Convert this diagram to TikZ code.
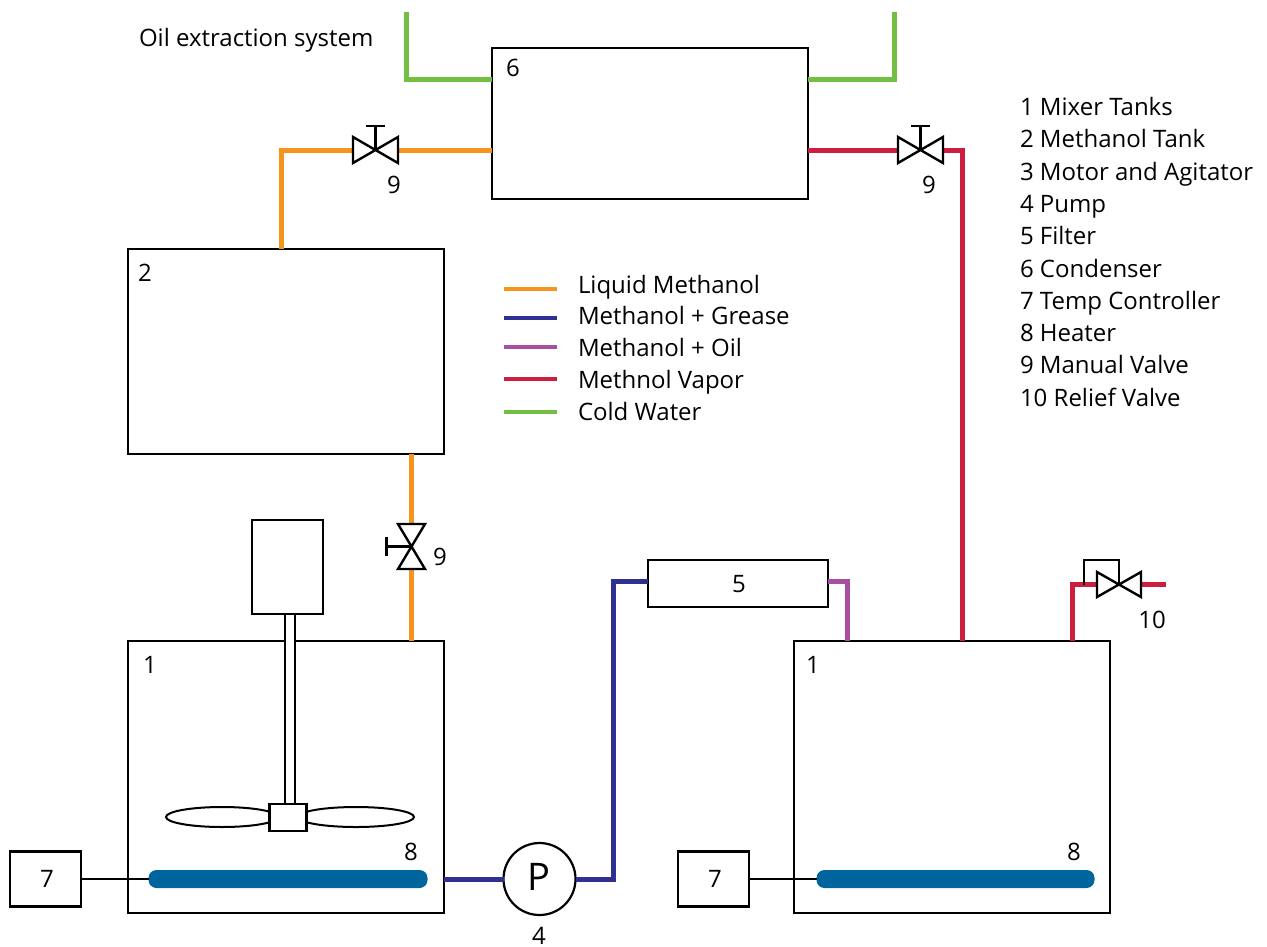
\documentclass[tikz,border=0pt]{standalone}
\usepackage{fontspec}
\usetikzlibrary{shapes.geometric}
\setmainfont{Open Sans}
\definecolor{liq}{HTML}{F7941D}
\definecolor{grease}{HTML}{2E3192}
\definecolor{oilc}{HTML}{A94F9F}
\definecolor{vapor}{HTML}{CC1F3F}
\definecolor{coldw}{HTML}{72BF44}
\definecolor{heat}{HTML}{00659C}
\tikzset{
  box/.style={draw=black,line width=2.2pt,fill=white,inner sep=0pt,outer sep=0pt},
  valvebox/.style={inner sep=0pt,outer sep=0pt,minimum width=#1},
  valveline/.style={draw=black,line width=2.4pt,fill=white,line join=miter},
  pipe/.style={line width=5pt,line join=miter},
  wire/.style={draw=black,line width=2pt},
  heater/.style={fill=heat,rounded corners=8pt,inner sep=0pt,outer sep=0pt,minimum height=18pt},
  blade/.style={draw=black,line width=2pt,ellipse,inner sep=0pt,outer sep=0pt,minimum height=20pt},
  lbl/.style={font=\fontsize{24}{28}\selectfont,inner sep=0pt,outer sep=0pt,anchor=base west,text=black},
  num/.style={lbl,anchor=base},
  legendline/.style={line width=4.5pt},
}
\begin{document}
\begin{tikzpicture}[x=1pt,y=-1pt]
\useasboundingbox (0,0) rectangle (1267,946);
% anchors of the pipes
\coordinate (gl0) at (406,12);
\coordinate (gr0) at (894,12);
\coordinate (rv0) at (1166,584);
% equipment
\node[box,minimum width=316pt,minimum height=151pt] (six) at (650,123.5) {};
\node[box,minimum width=316pt,minimum height=205pt] (two) at (286,351.5) {};
\node[box,minimum width=316pt,minimum height=272pt] (mixl) at (286,777) {};
\node[box,minimum width=316pt,minimum height=272pt] (mixr) at (952,777) {};
\node[box,minimum width=71pt,minimum height=94pt] (motor) at (287.5,567) {};
\node[box,minimum width=180pt,minimum height=47pt] (five) at (738,583.5) {};
\node[box,minimum width=71pt,minimum height=55pt] (sevl) at (45.5,879) {};
\node[box,minimum width=71pt,minimum height=55pt] (sevr) at (713.5,879) {};
\node[heater,minimum width=279pt] (heal) at (288,879) {};
\node[heater,minimum width=278pt] (hear) at (955.5,879) {};
\node[box,circle,minimum size=72pt] (pump) at (539.5,879) {};
% agitator
\node[box,minimum width=10pt,minimum height=190pt] (shaft) at (290,709) {};
\node[blade,minimum width=112pt] (bladel) at (222,817) {};
\node[blade,minimum width=116pt] (blader) at (356,817) {};
\node[box,minimum width=37pt,minimum height=27pt] (hub) at (288,817.5) {};
% valves
\node[valvebox=45pt,minimum height=26pt] (va) at (375.5,150) {};
\node[valvebox=45pt,minimum height=26pt] (vb) at (920.5,150) {};
\node[valvebox=27pt,minimum height=45pt] (vc) at (411.5,546.5) {};
\node[valvebox=44pt,minimum height=25pt] (vr) at (1119,584.5) {};
\coordinate (hal) at (366,126);
\coordinate (har) at (385,126);
\coordinate (hbl) at (911,126);
\coordinate (hbr) at (930,126);
\coordinate (hct) at (386.5,537);
\coordinate (hcb) at (386.5,556);
\coordinate (bpa) at (1084,585);
\coordinate (bpb) at (1084,559.5);
\coordinate (bpc) at (1119,559.5);
% pipes
\draw[pipe,coldw] (gl0) |- (six.west |- 0,79);
\draw[pipe,coldw] (gr0) |- (six.east |- 0,79);
\draw[pipe,liq] (two.north -| 281,0) |- (va.west);
\draw[pipe,liq] (va.east) -- (six.west |- va.east);
\draw[pipe,liq] (vc.north |- two.south) -- (vc.north);
\draw[pipe,liq] (vc.south) -- (vc.south |- mixl.north);
\draw[pipe,vapor] (six.east |- vb.west) -- (vb.west);
\draw[pipe,vapor] (vb.east) -| (962,0 |- mixr.north);
\draw[pipe,vapor] (mixr.north -| 1072,0) |- (vr.west);
\draw[pipe,vapor] (vr.east) -- (rv0 |- vr.east);
\draw[pipe,grease] (mixl.east |- pump.west) -- (pump.west);
\draw[pipe,grease] (pump.east) -| (613,581) -- (five.west |- 613,581);
\draw[pipe,oilc] (five.east |- 0,581) -| (847,0 |- mixr.north);
% valve bodies
\draw[valveline] (va.north west) -- (va.south east) -- (va.north east) -- (va.south west) -- cycle;
\draw[valveline] (vb.north west) -- (vb.south east) -- (vb.north east) -- (vb.south west) -- cycle;
\draw[valveline] (vc.north west) -- (vc.north east) -- (vc.south west) -- (vc.south east) -- cycle;
\draw[valveline] (vr.north west) -- (vr.south east) -- (vr.north east) -- (vr.south west) -- cycle;
\draw[valveline] (va.center) -- (va.center |- hal) (hal) -- (har);
\draw[valveline] (vb.center) -- (vb.center |- hbl) (hbl) -- (hbr);
\draw[valveline] (vc.center) -- (hct |- vc.center) (hct) -- (hcb);
\draw[wire] (bpa) -- (bpb) -- (bpc) -- (vr.center);
% controller wires
\draw[wire] (sevl.east) -- (heal.west);
\draw[wire] (sevr.east) -- (hear.west);
% legend
\draw[legendline,liq] (504,289) -- (557,289);
\draw[legendline,grease] (504,318) -- (557,318);
\draw[legendline,oilc] (504,347) -- (557,347);
\draw[legendline,vapor] (504,379) -- (557,379);
\draw[legendline,coldw] (504,412) -- (557,412);
\node[lbl] (tl1) at (578,293) {Liquid Methanol};
\node[lbl] (tl2) at (578,324) {Methanol + Grease};
\node[lbl] (tl3) at (578,356) {Methanol + Oil};
\node[lbl] (tl4) at (578,388) {Methnol Vapor};
\node[lbl] (tl5) at (578,420) {Cold Water};
% list
\node[lbl] (li1) at (1020,115) {1 Mixer Tanks};
\node[lbl] (li2) at (1020,147) {2 Methanol Tank};
\node[lbl] (li3) at (1020,180) {3 Motor and Agitator};
\node[lbl] (li4) at (1020,212) {4 Pump};
\node[lbl] (li5) at (1020,244) {5 Filter};
\node[lbl] (li6) at (1020,277) {6 Condenser};
\node[lbl] (li7) at (1020,309) {7 Temp Controller};
\node[lbl] (li8) at (1020,341) {8 Heater};
\node[lbl] (li9) at (1020,373) {9 Manual Valve};
\node[lbl] (li10) at (1020,406) {10 Relief Valve};
% labels
\node[lbl] (title) at (139,46) {Oil extraction system};
\node[num] (n6) at (513,76) {6};
\node[num] (n2) at (145,281) {2};
\node[num] (n9a) at (394,193) {9};
\node[num] (n9b) at (929,193) {9};
\node[num] (n9c) at (440,565) {9};
\node[num] (n5) at (739,592) {5};
\node[num] (n10) at (1152,628) {10};
\node[num] (n1l) at (150,673) {1};
\node[num] (n1r) at (813,673) {1};
\node[num] (n8l) at (411,860) {8};
\node[num] (n8r) at (1074,860) {8};
\node[num] (n7l) at (47,887) {7};
\node[num] (n7r) at (715,887) {7};
\node[num] (n4) at (539,944) {4};
\node[num,font=\fontsize{38}{42}\selectfont] (np) at (538.5,890) {P};
\end{tikzpicture}
\end{document}
